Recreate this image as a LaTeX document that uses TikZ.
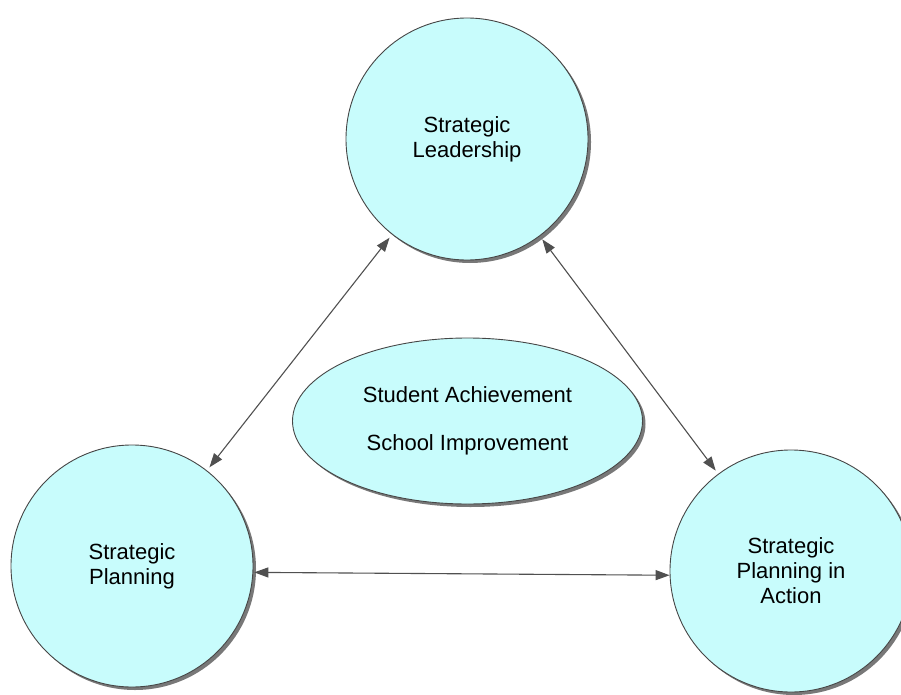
\documentclass[tikz,border=0pt]{standalone}
\usepackage{fontspec}
\setmainfont{Liberation Sans}
\usetikzlibrary{shapes.geometric,shadows,arrows.meta}
\definecolor{fillc}{RGB}{200,252,252}
\definecolor{edgec}{RGB}{70,70,70}
\definecolor{arrc}{RGB}{80,80,80}
\definecolor{shadc}{RGB}{120,120,120}
\tikzset{
  blob/.style={draw=edgec, line width=0.9pt, fill=fillc, inner sep=0pt,
    align=center, font=\fontsize{22}{25}\selectfont,
    drop shadow={shadow xshift=3pt, shadow yshift=-3pt, fill=shadc, opacity=1}},
  bigcircle/.style={blob, circle, minimum size=242pt},
  link/.style={draw=arrc, line width=1.1pt,
    {Triangle[length=14pt,width=10pt]}-{Triangle[length=14pt,width=10pt]}}
}
\begin{document}
\begin{tikzpicture}[x=1pt,y=-1pt]
\useasboundingbox (0,0) rectangle (901,695);
\node[bigcircle] (T) at (467,139) {Strategic\\Leadership};
\node[bigcircle] (L) at (132,566) {Strategic\\Planning};
\node[bigcircle] (R) at (791,571) {Strategic\\Planning in\\Action};
\node[blob, ellipse, minimum width=350pt, minimum height=166pt] (E) at (467.5,421)
  {Student Achievement\\[23pt]School Improvement};
\draw[link, shorten <=4pt, shorten >=4pt] (L) -- (T);
\draw[link, shorten <=4pt, shorten >=4pt] (T) -- (R);
\draw[link, shorten <=1pt] (L.-3) -- (R.-178.6);
\end{tikzpicture}
\end{document}
